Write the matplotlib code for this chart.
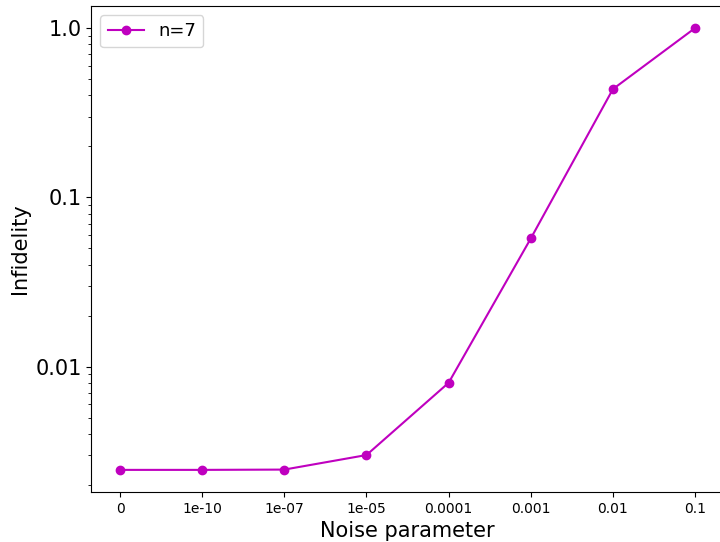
import matplotlib
matplotlib.use("Agg")
import matplotlib.pyplot as plt
from matplotlib.ticker import FixedLocator, FixedFormatter, LogLocator, NullFormatter

noise_labels = ["0", "1e-10", "1e-07", "1e-05", "0.0001", "0.001", "0.01", "0.1"]
infidelity = [0.00246, 0.00246, 0.00247, 0.00301, 0.00804, 0.0572, 0.436, 1.0]
series_label = "n=7"

fig = plt.figure(figsize=(7.2, 5.42), dpi=100)
ax = fig.add_axes([0.1268, 0.0923, 0.8785, 0.8967])
x = list(range(len(noise_labels)))
ax.plot(x, infidelity, marker="o", color="m", label=series_label)
ax.set_yscale("log")
ax.set_xticks(x)
ax.set_xticklabels(noise_labels, fontsize=10)
ax.yaxis.set_major_locator(FixedLocator([0.01, 0.1, 1.0]))
ax.yaxis.set_major_formatter(FixedFormatter(["0.01", "0.1", "1.0"]))
ax.yaxis.set_minor_locator(LogLocator(base=10, subs=range(2, 10)))
ax.yaxis.set_minor_formatter(NullFormatter())
ax.tick_params(axis="y", which="major", labelsize=15)
ax.set_xlabel("Noise parameter", fontsize=15)
ax.set_ylabel("Infidelity", fontsize=15)
ax.legend(fontsize=13, loc="upper left")
fig.savefig("out.png", dpi=100)
